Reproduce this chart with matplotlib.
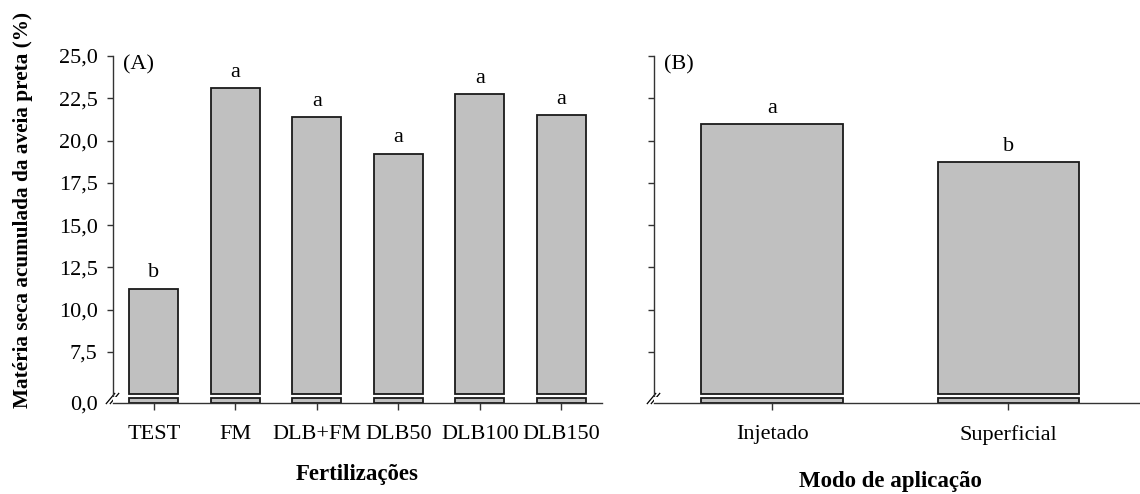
import numpy as np
import matplotlib
matplotlib.use('Agg')
import matplotlib.pyplot as plt
from matplotlib.transforms import offset_copy

plt.rcParams['font.family'] = ['Liberation Serif', 'DejaVu Serif']

# data
fert_names = ['TEST', 'FM', 'DLB+FM', 'DLB50', 'DLB100', 'DLB150']
fert_vals = [11.25, 23.11, 21.38, 19.23, 22.75, 21.49]
fert_letters = ['b', 'a', 'a', 'a', 'a', 'a']

modo_names = ['Injetado', 'Superficial']
modo_vals = [20.98, 18.72]
modo_letters = ['a', 'b']

yticks = [7.5, 10.0, 12.5, 15.0, 17.5, 20.0, 22.5, 25.0]
ytick_labels = ['7,5', '10,0', '12,5', '15,0', '17,5', '20,0', '22,5', '25,0']

W, H = 1140, 494
fig = plt.figure(figsize=(W / 100, H / 100), dpi=100)

bar_col = '#c0c0c0'
edge_col = '#1a1a1a'
spine_col = '#333333'
fs = 16


def px(x0, y0, x1, y1):
    # pixel box -> figure fraction [left, bottom, width, height]
    return [x0 / W, 1 - y1 / H, (x1 - x0) / W, (y1 - y0) / H]


def panel(x0, x1, xmax, names, vals, letters, tag, show_y):
    up = fig.add_axes(px(x0, 56, x1, 396))
    lo = fig.add_axes(px(x0, 397.5, x1, 402.7))
    xs = np.arange(len(names))

    up.bar(xs, np.array(vals) - 5.0, bottom=5.0, width=0.6, color=bar_col,
           edgecolor=edge_col, linewidth=1.3)
    lo.bar(xs, np.minimum(vals, 0.85), width=0.6, color=bar_col,
           edgecolor=edge_col, linewidth=1.3, clip_on=False)

    up.set_ylim(4.9, 25)
    lo.set_ylim(0, 1)
    for a in (up, lo):
        a.set_xlim(-0.5, xmax)
        for s in ('top', 'right'):
            a.spines[s].set_visible(False)
        for s in a.spines.values():
            s.set_color(spine_col)
            s.set_linewidth(1.0)
        a.tick_params(colors=spine_col, width=1.0, length=4, labelsize=fs,
                      labelcolor='black')
    up.spines['bottom'].set_visible(False)
    up.set_xticks([])
    lo.spines['left'].set_visible(False)

    up.set_yticks(yticks)
    lo.set_yticks([0.0])
    lo.tick_params(axis='y', length=0)
    if show_y:
        up.set_yticklabels(ytick_labels)
        lo.set_yticklabels(['0,0'])
        up.tick_params(axis='y', pad=7)
        lo.tick_params(axis='y', pad=11)
    else:
        up.set_yticklabels([])
        lo.set_yticklabels([])

    lo.set_xticks(xs)
    lo.set_xticklabels(names)
    lo.tick_params(axis='x', length=5, pad=11)

    for x, v, t in zip(xs, vals, letters):
        up.annotate(t, (x, v), xytext=(0, 8), textcoords='offset points',
                    ha='center', va='baseline', fontsize=fs)

    up.text(0.02, 0.975, tag, transform=up.transAxes, ha='left', va='center',
            fontsize=fs)

    # break marks "//"
    for off in (-2.0, 0.5):
        tr = offset_copy(up.transAxes, fig=fig, x=off, y=-1.5, units='points')
        up.plot([0], [0], transform=tr, marker=[(-1, -1.2), (1, 1.2)],
                markersize=8, markeredgecolor='black', markeredgewidth=0.9,
                clip_on=False, linestyle='none')
    return up, lo


upA, loA = panel(113, 602, 5.5, fert_names, fert_vals, fert_letters, '(A)', True)
upB, loB = panel(654, 1140, 1.557, modo_names, modo_vals, modo_letters, '(B)', False)

fig.text(357 / W, 1 - 474 / H, 'Fertilizações', ha='center', va='center',
         fontsize=16.5, fontweight='bold')
fig.text(890 / W, 1 - 481 / H, 'Modo de aplicação', ha='center', va='center',
         fontsize=16.5, fontweight='bold')
fig.text(23 / W, 1 - 210 / H, 'Matéria seca acumulada da aveia preta (%)',
         rotation=90, ha='center', va='center', fontsize=15.3, fontweight='bold')

fig.savefig('out.png', dpi=100)
